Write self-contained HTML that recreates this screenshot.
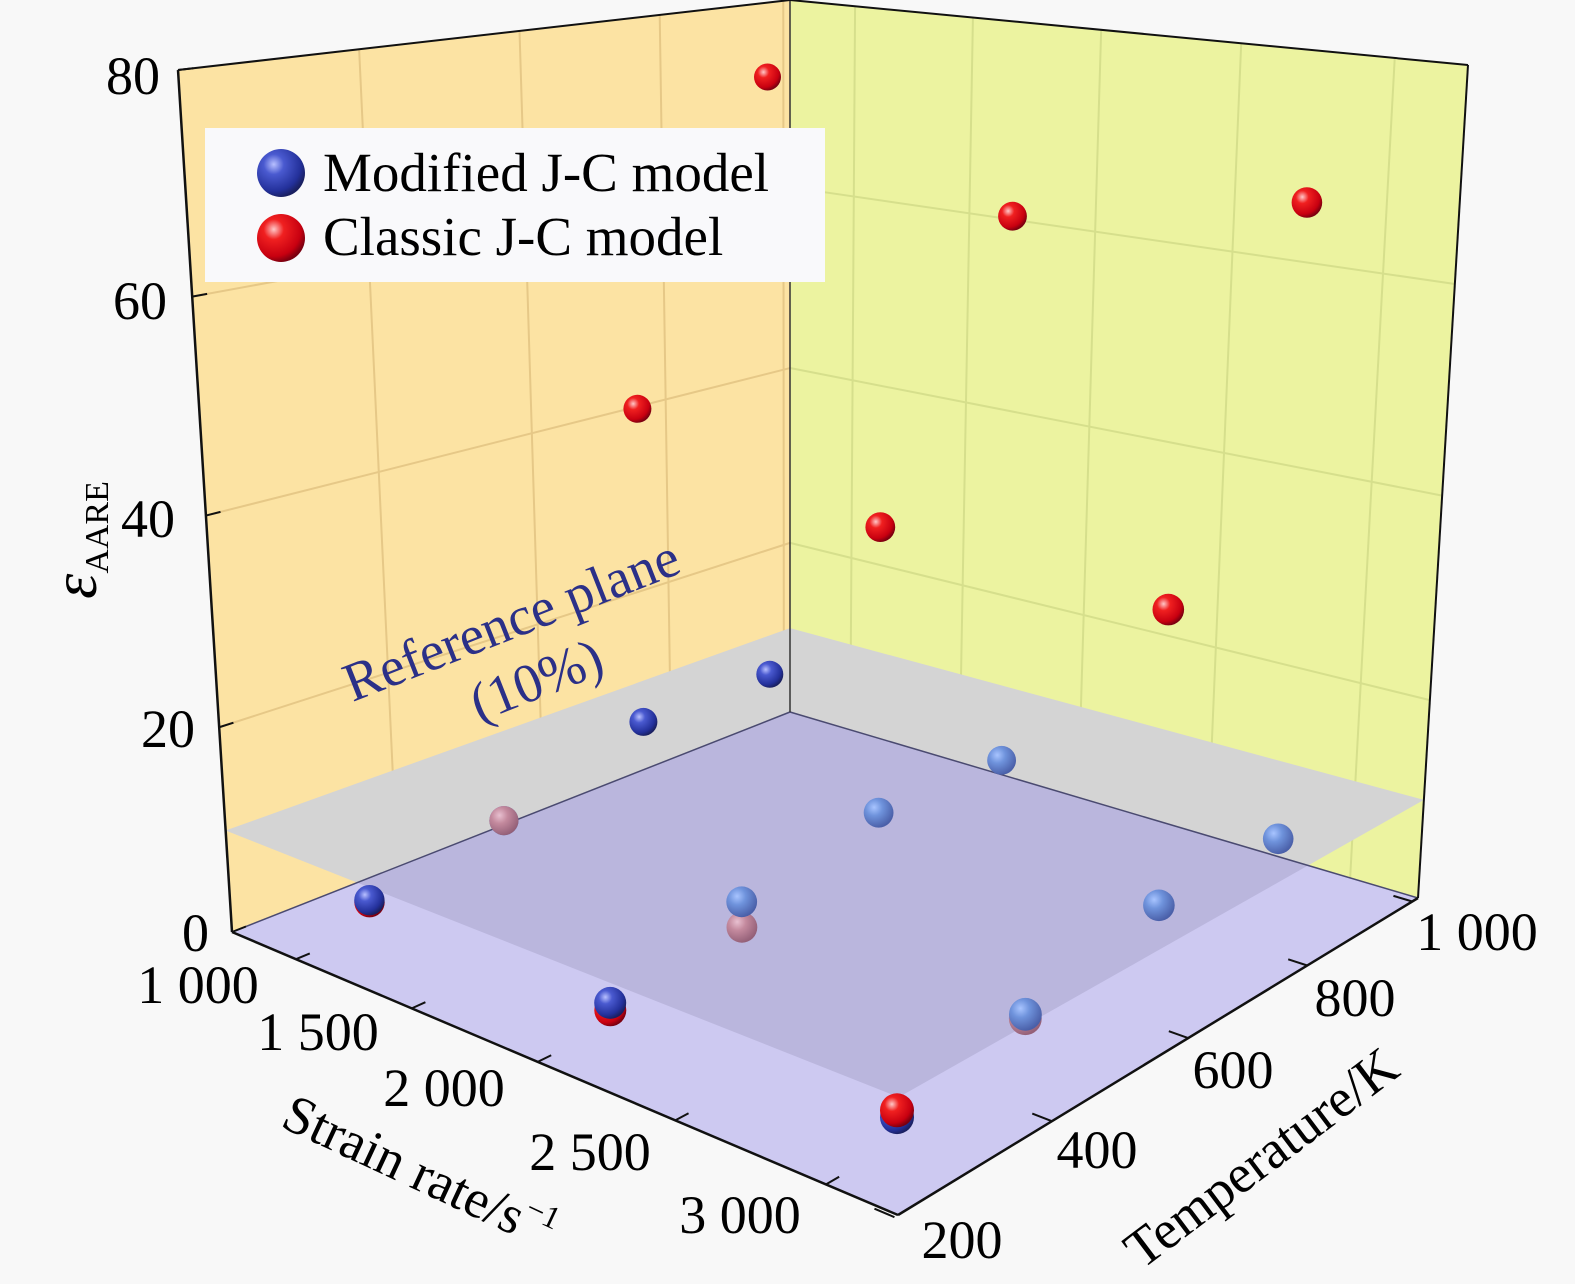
<!DOCTYPE html>
<html><head><meta charset="utf-8"><style>
html,body{margin:0;padding:0;background:#f8f8f8;}
svg{display:block;font-family:"Liberation Serif",serif;}
</style></head><body>
<svg id="chart" width="1575" height="1284" viewBox="0 0 1575 1284" xmlns="http://www.w3.org/2000/svg">
<defs>
<radialGradient id="gBlue" cx="0.35" cy="0.32" r="0.7"><stop offset="0" stop-color="#b8c0ff"/><stop offset="0.3" stop-color="#4a5ad0"/><stop offset="0.8" stop-color="#23309a"/><stop offset="1" stop-color="#1a2060"/></radialGradient>
<radialGradient id="gRed" cx="0.35" cy="0.32" r="0.7"><stop offset="0" stop-color="#ffc8c8"/><stop offset="0.3" stop-color="#f02020"/><stop offset="0.8" stop-color="#c80010"/><stop offset="1" stop-color="#7a0010"/></radialGradient>
<radialGradient id="gBlueDim" cx="0.35" cy="0.32" r="0.7"><stop offset="0" stop-color="#a8c4ff"/><stop offset="0.4" stop-color="#6f93dc"/><stop offset="1" stop-color="#4a5fa8"/></radialGradient>
<radialGradient id="gRedDim" cx="0.35" cy="0.32" r="0.7"><stop offset="0" stop-color="#e8c0d0"/><stop offset="0.4" stop-color="#c48a9e"/><stop offset="1" stop-color="#946078"/></radialGradient>
<clipPath id="floorClip"><polygon id="floorClipPoly" points=""/></clipPath>
</defs>
<g id="scene"></g>
<g id="labels">
<text x="160" y="94" font-size="54" text-anchor="end">80</text>
<text x="167" y="319" font-size="54" text-anchor="end">60</text>
<text x="175" y="537" font-size="54" text-anchor="end">40</text>
<text x="195" y="747" font-size="54" text-anchor="end">20</text>
<text x="209" y="951" font-size="54" text-anchor="end">0</text>
<text x="198" y="1003" font-size="54" text-anchor="middle">1 000</text>
<text x="318" y="1050" font-size="54" text-anchor="middle">1 500</text>
<text x="444" y="1106" font-size="54" text-anchor="middle">2 000</text>
<text x="590" y="1170" font-size="54" text-anchor="middle">2 500</text>
<text x="740" y="1233" font-size="54" text-anchor="middle">3 000</text>
<text x="962" y="1258" font-size="54" text-anchor="middle">200</text>
<text x="1097" y="1168" font-size="54" text-anchor="middle">400</text>
<text x="1233" y="1088" font-size="54" text-anchor="middle">600</text>
<text x="1355" y="1016" font-size="54" text-anchor="middle">800</text>
<text x="1477" y="950" font-size="54" text-anchor="middle">1 000</text>
<text transform="translate(412,1188) rotate(25)" font-size="54" text-anchor="middle">Strain rate/s<tspan font-size="32" dy="-22">−1</tspan></text>
<text transform="translate(1272,1172) rotate(-37)" font-size="54" text-anchor="middle">Temperature/K</text>
<text transform="translate(96,540) rotate(-90)" text-anchor="middle"><tspan font-size="64" font-style="italic">ε</tspan><tspan font-size="34" dy="12">AARE</tspan></text>
<text transform="translate(518,637) rotate(-21.5)" font-size="55" fill="#2b3088" text-anchor="middle">Reference plane</text>
<text transform="translate(543,697) rotate(-21.5)" font-size="55" fill="#2b3088" text-anchor="middle">(10%)</text>
</g>
<g>
<rect x="205" y="128" width="620" height="154" fill="#f9f9fb"/>
<circle cx="281" cy="173" r="24" fill="url(#gBlue)"/>
<text x="323" y="191" font-size="55">Modified J-C model</text>
<circle cx="281" cy="238" r="24" fill="url(#gRed)"/>
<text x="323" y="255" font-size="55">Classic J-C model</text>
</g>
</svg>
<script>
// ---- data ----
const strainRates = [1000, 1000, 1000, 1000, 2000, 2000, 2000, 2000, 3000, 3000, 3000, 3000];
const temperatures = [290, 460, 660, 865, 290, 460, 660, 865, 290, 460, 660, 865];
const modifiedErr = [2.8, 5.4, 10.1, 10.1, 2.2, 5.9, 8.5, 8.1, 2.3, 5.0, 8.3, 8.4];
const classicErr = [2.6, 5.4, 43, 74, 1.5, 3.4, 37, 63.6, 2.9, 4.6, 36, 68.9];
const strainTicks = [1000, 1500, 2000, 2500, 3000];
const tempTicks = [200, 400, 600, 800, 1000];
const zTicks = [0, 20, 40, 60, 80];
const refLevel = 10;

// ---- projection ----
const A=[232,932], B=[898,1215], C=[1418,898], D=[790,712];
const HA=862, HB=1000, HC=833, HD=712;
const XA=-54, XB=6, XC=50, XD=0;
function fu(s){const x=s/1000;return (0.3015*x-0.2127)/(1-0.0748*x);}
function fv(T){const x=T/100;return (0.1766*x-0.3606)/(1+0.0421*x);}
function bil(a,b,c,d,u,v){return (1-u)*(1-v)*a+u*(1-v)*b+u*v*c+(1-u)*v*d;}
function P(u,v,z){
  const t=z/80, f=t/(t+1.07*(1-t));
  const x=bil(A[0],B[0],C[0],D[0],u,v), y=bil(A[1],B[1],C[1],D[1],u,v);
  const h=bil(HA,HB,HC,HD,u,v), dx=bil(XA,XB,XC,XD,u,v);
  return [x+dx*f, y-h*f];
}
function proj(s,T,z){return P(fu(s),fv(T),z);}
const NS='http://www.w3.org/2000/svg';
const scene=document.getElementById('scene');
function mk(tag,attrs,parent){const e=document.createElementNS(NS,tag);for(const k in attrs)e.setAttribute(k,attrs[k]);(parent||scene).appendChild(e);return e;}
function pts(arr){return arr.map(p=>p[0].toFixed(1)+','+p[1].toFixed(1)).join(' ');}
function inPoly(p,poly){let c=false;for(let i=0,j=poly.length-1;i<poly.length;j=i++){const a=poly[i],b=poly[j];
  if(((a[1]>p[1])!==(b[1]>p[1]))&&(p[0]<(b[0]-a[0])*(p[1]-a[1])/(b[1]-a[1])+a[0]))c=!c;}return c;}

let e;
e=mk('polygon',{points:pts([P(0,0,0),P(0,1,0),P(0,1,80),P(0,0,80)]),fill:'#fce3a3'});


e=mk('polygon',{points:pts([P(0,1,0),P(1,1,0),P(1,1,80),P(0,1,80)]),fill:'#ecf3a0'});


tempTicks.forEach(T=>{const v=fv(T);if(v<=0.01||v>=0.99)return;
  e=mk('line',{x1:P(0,v,0)[0],y1:P(0,v,0)[1],x2:P(0,v,80)[0],y2:P(0,v,80)[1],stroke:'#e6c887','stroke-width':2});
  
  });
strainTicks.forEach(s=>{const u=fu(s);
  e=mk('line',{x1:P(u,1,0)[0],y1:P(u,1,0)[1],x2:P(u,1,80)[0],y2:P(u,1,80)[1],stroke:'#d6df8c','stroke-width':2});
  
  });
zTicks.forEach(z=>{if(z===0||z===80)return;
  e=mk('line',{x1:P(0,0,z)[0],y1:P(0,0,z)[1],x2:P(0,1,z)[0],y2:P(0,1,z)[1],stroke:'#e6c887','stroke-width':2});
  
  
  e=mk('line',{x1:P(0,1,z)[0],y1:P(0,1,z)[1],x2:P(1,1,z)[0],y2:P(1,1,z)[1],stroke:'#d6df8c','stroke-width':2});
  
  });
const planeArr=[P(0,0,refLevel),P(1,0,refLevel),P(1,1,refLevel),P(0,1,refLevel)];
const planePts=pts(planeArr);
e=mk('polygon',{points:planePts,fill:'#d4d4d4'});


const floorPts=pts([P(0,0,0),P(1,0,0),P(1,1,0),P(0,1,0)]);
e=mk('polygon',{points:floorPts,fill:'#cdc9f1'});


document.getElementById('floorClipPoly').setAttribute('points',floorPts);
e=mk('polygon',{points:planePts,fill:'#bab6dd','clip-path':'url(#floorClip)'});


function edge(p,q,w,c,name){e=mk('line',{x1:p[0],y1:p[1],x2:q[0],y2:q[1],stroke:c,'stroke-width':w});
  
  }
edge(P(0,1,0),P(0,0,0),1.5,'#4a4a70','floor-back-left-edge');
edge(P(0,1,0),P(1,1,0),1.5,'#4a4a70','floor-back-right-edge');
edge(P(0,1,0),P(0,1,80),1.5,'#333','back-vertical-edge');
edge(P(0,0,80),P(0,1,80),2,'#111','left-top-edge');
edge(P(0,1,80),P(1,1,80),2,'#111','right-top-edge');
edge(P(1,1,0),P(1,1,80),2,'#111','right-vertical-edge');
edge(P(0,0,0),P(0,0,80),2.5,'#111','z-axis-line');
edge(P(0,0,0),P(1,0,0),2.5,'#111','strain-axis-line');
edge(P(1,0,0),P(1,1,0),2.5,'#111','temperature-axis-line');
strainTicks.forEach(s=>{const u=fu(s);const p=P(u,0,0),q=P(u,0.025,0);edge(p,q,2,'#111','strain-tick');});
tempTicks.forEach(T=>{const v=fv(T);const p=P(1,v,0),q=P(0.97,v,0);edge(p,q,2,'#111','temperature-tick');});
zTicks.forEach(z=>{const p=P(0,0,z),q=P(0,0.025,z);edge(p,q,2,'#111','z-tick');});
const marks=[];
strainRates.forEach((s,i)=>{
  marks.push({s:s,T:temperatures[i],z:modifiedErr[i],kind:'modified'});
  marks.push({s:s,T:temperatures[i],z:classicErr[i],kind:'classic'});
});
marks.forEach(m=>{m.u=fu(m.s);m.v=fv(m.T);m.depth=m.v-m.u-m.z*0.0001;});
marks.sort((a,b)=>b.depth-a.depth);
marks.forEach(m=>{
  const p=proj(m.s,m.T,m.z);
  const r=13+4.5*(m.u+(1-m.v))/2;
  const below=m.z<refLevel && inPoly(p,planeArr);
  const fill=m.kind==='modified'?(below?'url(#gBlueDim)':'url(#gBlue)'):(below?'url(#gRedDim)':'url(#gRed)');
  const c=mk('circle',{cx:p[0].toFixed(1),cy:p[1].toFixed(1),r:r.toFixed(1),fill:fill});
  
  
});
</script>
</body></html>
